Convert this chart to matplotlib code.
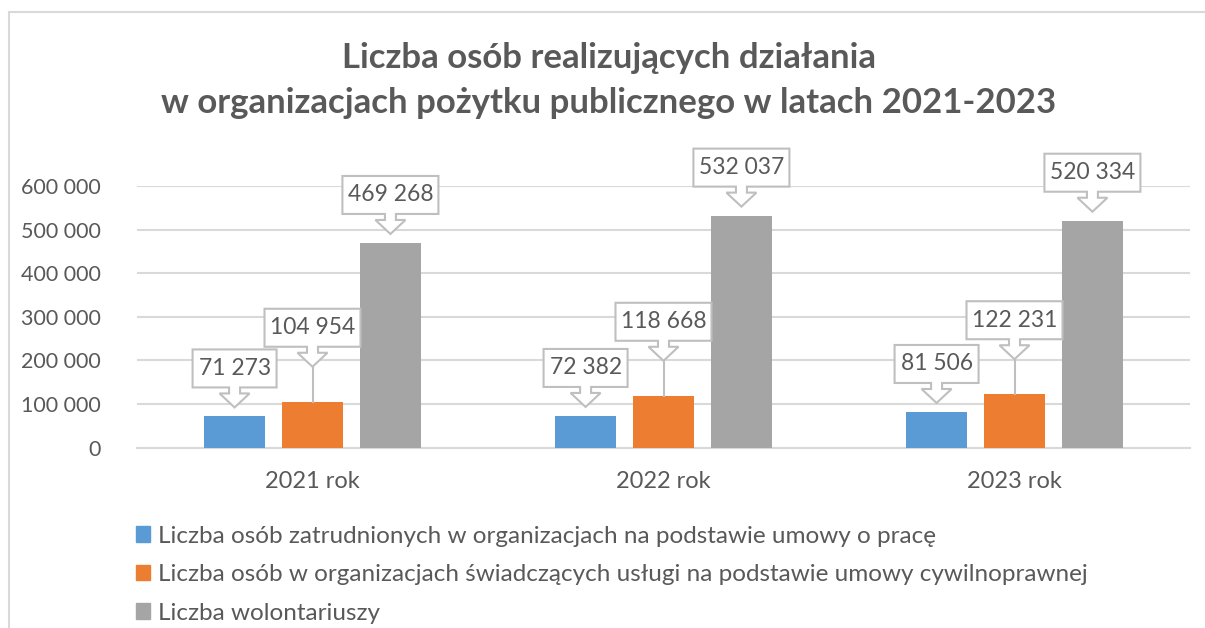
import matplotlib.pyplot as plt
import matplotlib.transforms as mtransforms
from matplotlib.patches import Polygon, Patch, Rectangle

years = ['2021 rok', '2022 rok', '2023 rok']
employed = [71273, 72382, 81506]
civil = [104954, 118668, 122231]
volunteers = [469268, 532037, 520334]
series_names = [
    'Liczba osób zatrudnionych w organizacjach na podstawie umowy o pracę',
    'Liczba osób w organizacjach świadczących usługi na podstawie umowy cywilnoprawnej',
    'Liczba wolontariuszy',
]
colors = ['#5b9bd5', '#ed7d31', '#a5a5a5']
text_color = '#595959'
grid_color = '#d9d9d9'

plt.rcParams['font.family'] = ['Lato', 'DejaVu Sans']

fig = plt.figure(figsize=(12.05, 6.28), dpi=100)
ax = fig.add_axes([137 / 1205, 1 - 447.5 / 628, (1190 - 137) / 1205, (447.5 - 186) / 628])

# outer chart frame
fig.patches.append(Rectangle((9 / 1205, -0.1), 1.2, 1.1 - 12 / 628, transform=fig.transFigure,
                             facecolor='none', edgecolor=grid_color, linewidth=1.5))

fig.text(0.505, 1 - 58 / 628, 'Liczba osób realizujących działania', ha='center', va='center',
         fontsize=25, fontweight='bold', color=text_color)
fig.text(0.505, 1 - 103 / 628, 'w organizacjach pożytku publicznego w latach 2021-2023', ha='center',
         va='center', fontsize=25, fontweight='bold', color=text_color)

x = range(len(years))
width = 0.173
step = 0.222
all_series = [employed, civil, volunteers]
for i, vals in enumerate(all_series):
    pos = [k + (i - 1) * step for k in x]
    ax.bar(pos, vals, width=width, color=colors[i], label=series_names[i], zorder=3)


def fmt(v):
    return f'{v:,}'.replace(',', ' ')


def callout(xd, yd, label, tip_gap, leader):
    # shape drawn in pixels (1/100 inch), tip at (0, 0)
    w = 84 if len(label) <= 6 else 96
    h = 38
    pts = [(-5.5, 20), (-5.5, 14), (-15, 14), (0, 0), (15, 14), (5.5, 14), (5.5, 20),
           (w / 2, 20), (w / 2, 20 + h), (-w / 2, 20 + h), (-w / 2, 20)]
    pts = [(px / 100, (py + tip_gap) / 100) for px, py in pts]
    tr = fig.dpi_scale_trans + mtransforms.ScaledTranslation(xd, yd, ax.transData)
    ax.add_patch(Polygon(pts, closed=True, facecolor='white', edgecolor='#bfbfbf',
                         linewidth=1.5, transform=tr, zorder=5, clip_on=False))
    if leader:
        ax.plot([0, 0], [0, tip_gap / 100], color='#bfbfbf', linewidth=1.5, transform=tr,
                zorder=4, clip_on=False)
    ax.text(0, (tip_gap + 20 + h / 2) / 100, label, transform=tr, ha='center', va='center',
            fontsize=16.5, color=text_color, zorder=6, clip_on=False)


gaps = [9, 35, 9]
for i, vals in enumerate(all_series):
    for k, v in enumerate(vals):
        callout(k + (i - 1) * step, v, fmt(v), gaps[i], i == 1)

ax.set_xlim(-0.5, 2.5)
ax.set_ylim(0, 600000)
ax.set_yticks(range(0, 600001, 100000))
ax.set_yticklabels([fmt(v) for v in range(0, 600001, 100000)])
ax.set_xticks(list(x))
ax.set_xticklabels(years)
ax.tick_params(length=0, labelcolor=text_color)
ax.tick_params(axis='y', pad=26, labelsize=15.5)
ax.tick_params(axis='x', pad=17, labelsize=17)
ax.grid(axis='y', color=grid_color, linewidth=1.5, zorder=0)
for s in ['top', 'right', 'left']:
    ax.spines[s].set_visible(False)
ax.spines['bottom'].set_color(grid_color)
ax.spines['bottom'].set_linewidth(1.5)

handles = [Patch(color=c) for c in colors]
fig.legend(handles, series_names, loc='upper left', bbox_to_anchor=(126 / 1205, 1 - 516 / 628),
           frameon=False, fontsize=17.5, labelcolor=text_color, handlelength=0.6, handleheight=0.6,
           handletextpad=0.3, labelspacing=0.72, borderaxespad=0)

fig.savefig('out.png', dpi=100)
